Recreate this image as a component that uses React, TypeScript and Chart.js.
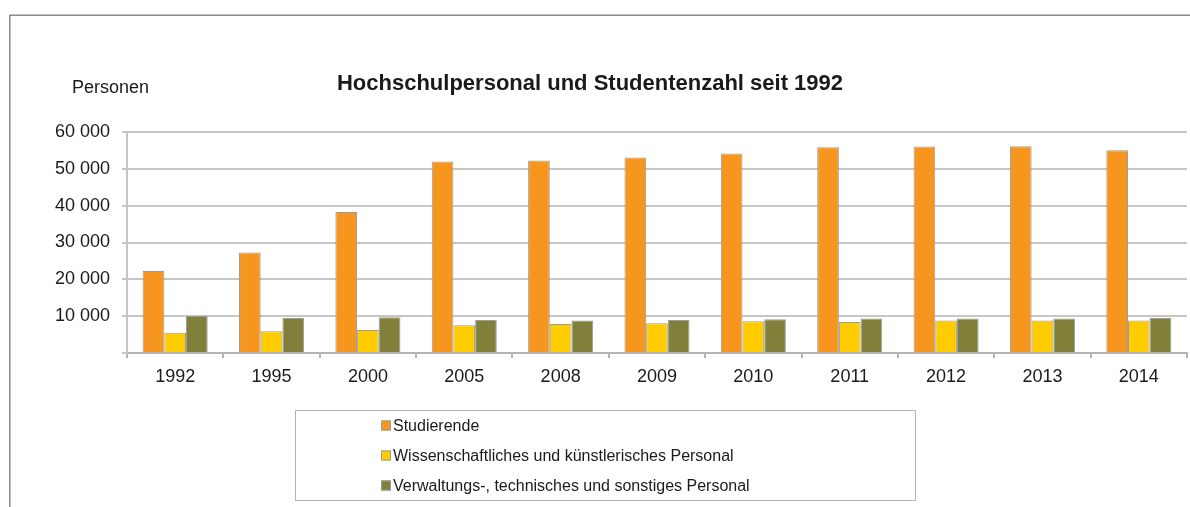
import React, { useEffect, useRef } from "react";
import { Chart, registerables } from "chart.js";

Chart.register(...registerables);

const TITLE = "Hochschulpersonal und Studentenzahl seit 1992";
const Y_UNIT = "Personen";

const years = ["1992", "1995", "2000", "2005", "2008", "2009", "2010", "2011", "2012", "2013", "2014"];
const studierende = [22230, 27300, 38280, 51970, 52240, 53060, 54150, 55870, 56050, 56140, 55050];
const wissPersonal = [5520, 5900, 6260, 7530, 7890, 8070, 8620, 8440, 8800, 8800, 8800];
const verwPersonal = [10070, 9520, 9700, 8980, 8800, 8980, 9160, 9340, 9340, 9340, 9520];

const seriesNames = [
  "Studierende",
  "Wissenschaftliches und künstlerisches Personal",
  "Verwaltungs-, technisches und sonstiges Personal",
];
const seriesColors = ["#F7961E", "#FFCC00", "#80803A"];

const FONT = '"Liberation Sans", Arial, sans-serif';
const TEXT = "#1a1a1a";

const decor = {
  id: "decor",
  beforeDraw(chart: any) {
    const ctx = chart.ctx;
    ctx.save();
    ctx.fillStyle = "#ffffff";
    ctx.fillRect(0, 0, chart.width, chart.height);
    ctx.restore();
  },
  afterDraw(chart: any) {
    const ctx = chart.ctx;
    ctx.save();
    // outer frame (top and left)
    ctx.strokeStyle = "#8a8a8a";
    ctx.lineWidth = 1.5;
    ctx.beginPath();
    ctx.moveTo(9.75, chart.height);
    ctx.lineTo(9.75, 15.25);
    ctx.lineTo(chart.width, 15.25);
    ctx.stroke();

    // title
    ctx.fillStyle = TEXT;
    ctx.textBaseline = "alphabetic";
    ctx.textAlign = "center";
    ctx.font = "bold 22px " + FONT;
    ctx.fillText(TITLE, 590, 90);

    // unit label
    ctx.textAlign = "left";
    ctx.font = "18px " + FONT;
    ctx.fillText(Y_UNIT, 72, 93);

    // legend box
    ctx.strokeStyle = "#b4b4b4";
    ctx.lineWidth = 1;
    ctx.strokeRect(295.5, 410.5, 620, 90);

    const ds = chart.data.datasets;
    ctx.textBaseline = "middle";
    ctx.font = "16px " + FONT;
    for (let i = 0; i < ds.length; i++) {
      const cy = 425.5 + i * 30;
      ctx.fillStyle = ds[i].backgroundColor;
      ctx.fillRect(381, cy - 5, 10, 10);
      ctx.strokeStyle = "#9a9a9a";
      ctx.strokeRect(381.5, cy - 4.5, 9, 9);
      ctx.fillStyle = TEXT;
      ctx.fillText(ds[i].label, 393, cy + 1);
    }
    ctx.restore();
  },
};

function fmt(v: number): string {
  if (v === 0) return "";
  const s = String(Math.round(v));
  return s.replace(/\B(?=(\d{3})+(?!\d))/g, " ");
}

export default function App() {
  const ref = useRef<HTMLCanvasElement | null>(null);

  useEffect(() => {
    if (!ref.current) return;
    const data = [studierende, wissPersonal, verwPersonal];
    const chart = new Chart(ref.current, {
      type: "bar",
      data: {
        labels: years,
        datasets: data.map((d, i) => ({
          label: seriesNames[i],
          data: d,
          backgroundColor: seriesColors[i],
          borderColor: "#9c9c9c",
          borderWidth: 1,
          categoryPercentage: 0.675,
          barPercentage: 1,
        })),
      },
      options: {
        animation: false,
        responsive: false,
        maintainAspectRatio: false,
        layout: { padding: { top: 132, left: 0, right: 3, bottom: 114 } },
        plugins: {
          legend: { display: false },
          title: { display: false },
          tooltip: { enabled: false },
        },
        scales: {
          x: {
            afterFit: (s: any) => {
              s.height = 40;
            },
            grid: {
              display: true,
              drawOnChartArea: false,
              drawTicks: true,
              tickLength: 5,
              color: "#b4b4b4",
              lineWidth: 2,
              offset: true,
            },
            border: { display: true, color: "#b4b4b4", width: 2 },
            ticks: {
              color: TEXT,
              font: { family: FONT, size: 18 },
              padding: 8,
              maxRotation: 0,
              autoSkip: false,
            },
          },
          y: {
            min: 0,
            max: 60000,
            afterFit: (s: any) => {
              s.width = 127;
            },
            grid: {
              color: "#c6c6c6",
              lineWidth: 2,
              tickLength: 5,
              drawTicks: true,
            },
            border: { display: true, color: "#c6c6c6", width: 2 },
            ticks: {
              stepSize: 10000,
              color: TEXT,
              font: { family: FONT, size: 18 },
              padding: 12,
              callback: (v: any) => fmt(Number(v)),
            },
          },
        },
      },
      plugins: [decor],
    });
    return () => chart.destroy();
  }, []);

  return (
    <div style={{ position: "absolute", left: 0, top: 0, width: 1190, height: 507 }}>
      <canvas ref={ref} width={1190} height={507} style={{ display: "block" }} />
    </div>
  );
}
